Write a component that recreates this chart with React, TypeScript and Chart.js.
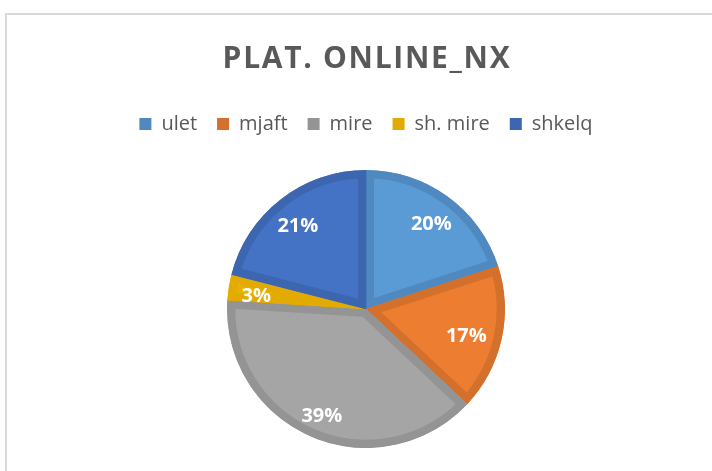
import React, { useEffect, useRef } from "react";
import { Chart, registerables } from "chart.js";

Chart.register(...registerables);

const categories = ["ulet", "mjaft", "mire", "sh. mire", "shkelq"];
const values = [20, 17, 39, 3, 21];
const fillColors = ["#5B9BD5", "#ED7D31", "#A5A5A5", "#EAB000", "#4472C4"];
const borderColors = ["#4F89C0", "#D3702C", "#949494", "#E3AA00", "#3D66B0"];
const titleText = "PLAT. ONLINE_NX";

const labelPlugin = {
  id: "sliceLabels",
  beforeInit(chart: any) {
    const legend = chart.legend;
    if (legend) {
      const origFit = legend.fit;
      legend.fit = function () {
        origFit.call(this);
        this.height += 26;
      };
    }
  },
  beforeDraw(chart: any) {
    const ctx = chart.ctx;
    const ca = chart.chartArea;
    ctx.save();
    ctx.fillStyle = "#595959";
    ctx.font = "bold 30px 'Open Sans'";
    (ctx as any).letterSpacing = "1.7px";
    ctx.textAlign = "center";
    ctx.textBaseline = "alphabetic";
    ctx.fillText(titleText, (ca.left + ca.right) / 2 + 1, 68);
    ctx.restore();
  },
  afterDatasetsDraw(chart: any) {
    const ctx = chart.ctx;
    const meta = chart.getDatasetMeta(0);
    const data = chart.data.datasets[0].data as number[];
    const total = data.reduce((a, b) => a + b, 0);
    ctx.save();
    ctx.fillStyle = "#FFFFFF";
    ctx.font = "bold 20px 'Open Sans'";
    ctx.textAlign = "center";
    ctx.textBaseline = "middle";
    meta.data.forEach((arc: any, i: number) => {
      const p = arc.getProps(["x", "y", "startAngle", "endAngle", "outerRadius"], true);
      const mid = (p.startAngle + p.endAngle) / 2;
      const r = p.outerRadius * (Math.cos(mid) > 0.9 ? 0.74 : 0.8);
      const x = p.x + Math.cos(mid) * r;
      const y = p.y + Math.sin(mid) * r + 5;
      ctx.fillText(Math.round((data[i] / total) * 100) + "%", x, y);
    });
    ctx.restore();
  },
};

export default function App() {
  const ref = useRef<HTMLCanvasElement>(null);
  useEffect(() => {
    document.body.style.margin = "0";
    const chart = new Chart(ref.current as HTMLCanvasElement, {
      type: "pie",
      data: {
        labels: categories,
        datasets: [
          {
            data: values,
            backgroundColor: fillColors,
            borderColor: borderColors,
            borderWidth: 8,
            borderAlign: "inner",
          } as any,
        ],
      },
      options: {
        responsive: false,
        animation: false,
        layout: { padding: { top: 94, bottom: 23, left: 100, right: 80 } },
        plugins: {
          tooltip: { enabled: false },
          title: { display: false },
          legend: {
            position: "top",
            labels: {
              color: "#595959",
              font: { family: "'Open Sans'", size: 20 },
              boxWidth: 12,
              boxHeight: 12,
              padding: 20,
              generateLabels: () =>
                categories.map((c, i) => ({
                  text: c,
                  fillStyle: borderColors[i],
                  strokeStyle: borderColors[i],
                  lineWidth: 0,
                  hidden: false,
                  index: i,
                  fontColor: "#595959",
                })),
            },
          },
        },
      },
      plugins: [labelPlugin],
    });
    return () => chart.destroy();
  }, []);
  return (
    <div style={{ position: "fixed", left: 0, top: 0, width: 712, height: 471, background: "#fff", overflow: "hidden" }}>
      <div
        style={{
          position: "absolute",
          left: 5,
          top: 13,
          width: 720,
          height: 480,
          borderLeft: "2px solid #D9D9D9",
          borderTop: "2px solid #D9D9D9",
        }}
      />
      <canvas ref={ref} width={712} height={471} style={{ position: "absolute", left: 0, top: 0 }} />
    </div>
  );
}
